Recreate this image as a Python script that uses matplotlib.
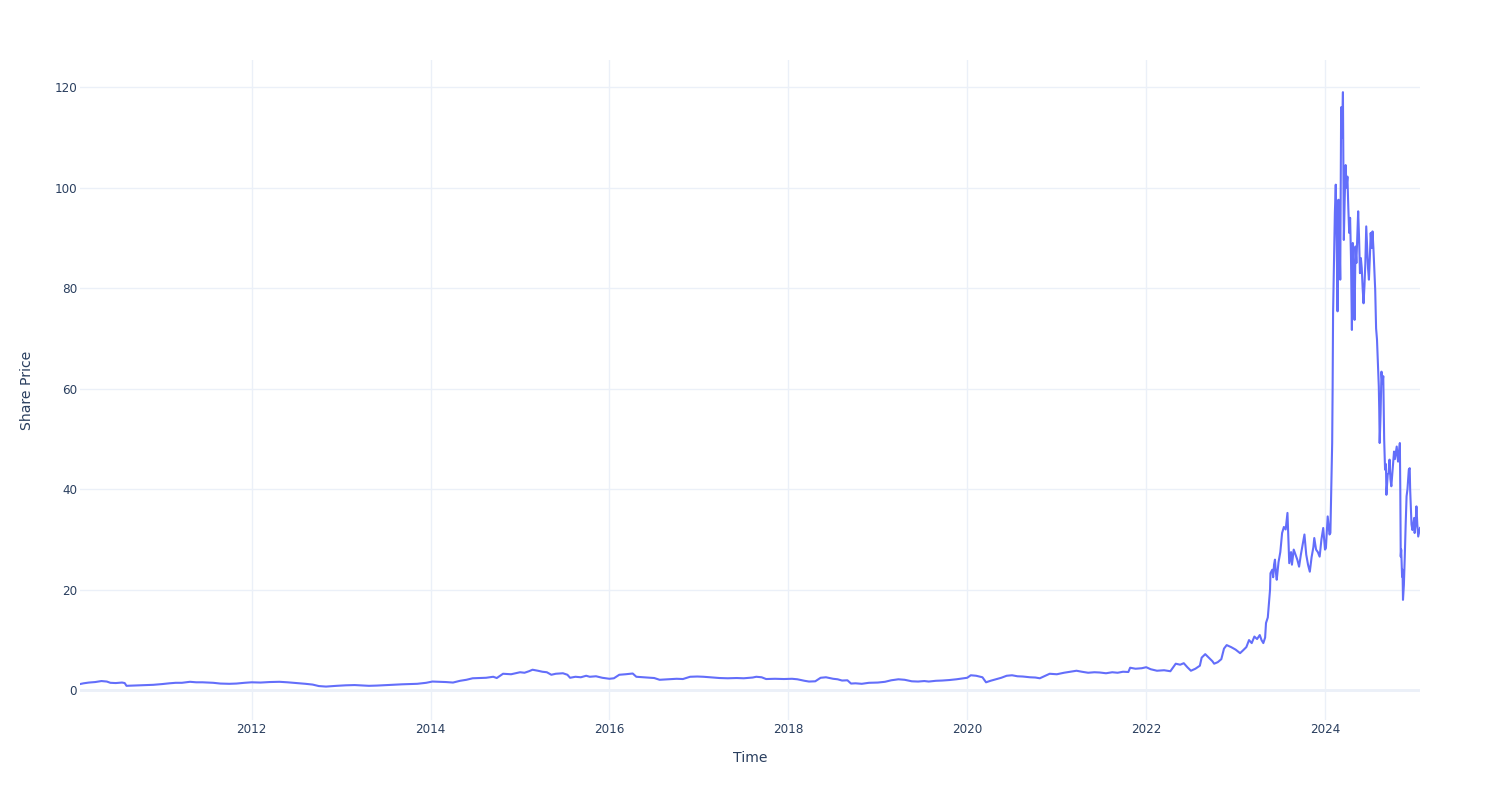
import matplotlib
matplotlib.use("Agg")
import matplotlib.pyplot as plt
import matplotlib.dates as mdates
import numpy as np
import pandas as pd

# ---- data (decimal year, share price) ----
decimal_years = [
    2010.08, 2010.12, 2010.18, 2010.25, 2010.32, 2010.38, 2010.42, 2010.48, 2010.55, 2010.58,
    2010.60, 2010.68, 2010.75, 2010.82, 2010.90, 2011.00, 2011.08, 2011.15, 2011.22, 2011.31,
    2011.38, 2011.45, 2011.57, 2011.65, 2011.75, 2011.83, 2011.92, 2012.00, 2012.10, 2012.20,
    2012.31, 2012.40, 2012.50, 2012.60, 2012.68, 2012.75, 2012.83, 2012.95, 2013.05, 2013.15,
    2013.25, 2013.31, 2013.40, 2013.50, 2013.57, 2013.68, 2013.76, 2013.85, 2013.95, 2014.02,
    2014.10, 2014.17, 2014.25, 2014.33, 2014.40, 2014.47, 2014.55, 2014.62, 2014.70, 2014.74,
    2014.81, 2014.90, 2015.00, 2015.05, 2015.10, 2015.14, 2015.20, 2015.25, 2015.30, 2015.35,
    2015.40, 2015.48, 2015.53, 2015.56, 2015.62, 2015.68, 2015.74, 2015.78, 2015.85, 2015.92,
    2016.00, 2016.05, 2016.11, 2016.18, 2016.26, 2016.30, 2016.38, 2016.45, 2016.50, 2016.56,
    2016.65, 2016.75, 2016.82, 2016.90, 2016.98, 2017.05, 2017.15, 2017.23, 2017.32, 2017.42,
    2017.50, 2017.60, 2017.64, 2017.70, 2017.75, 2017.85, 2017.95, 2018.04, 2018.10, 2018.18,
    2018.23, 2018.30, 2018.36, 2018.42, 2018.50, 2018.55, 2018.60, 2018.66, 2018.70, 2018.75,
    2018.82, 2018.90, 2019.00, 2019.08, 2019.15, 2019.23, 2019.30, 2019.38, 2019.45, 2019.52,
    2019.57, 2019.65, 2019.72, 2019.80, 2019.88, 2019.94, 2020.00, 2020.04, 2020.10, 2020.17,
    2020.21, 2020.26, 2020.32, 2020.38, 2020.44, 2020.50, 2020.56, 2020.62, 2020.70, 2020.76,
    2020.81, 2020.86, 2020.92, 2021.00, 2021.08, 2021.15, 2021.22, 2021.28, 2021.35, 2021.42,
    2021.48, 2021.55, 2021.62, 2021.68, 2021.74, 2021.80, 2021.82, 2021.88, 2021.95, 2022.00,
    2022.05, 2022.12, 2022.20, 2022.27, 2022.33, 2022.38, 2022.42, 2022.46, 2022.50, 2022.55,
    2022.60, 2022.62, 2022.66, 2022.70, 2022.74, 2022.76, 2022.80, 2022.84, 2022.87, 2022.90,
    2022.95, 2023.00, 2023.05, 2023.08, 2023.12, 2023.15, 2023.18, 2023.21, 2023.24, 2023.27,
    2023.29, 2023.31, 2023.33, 2023.34, 2023.36, 2023.37, 2023.385, 2023.39, 2023.41, 2023.42,
    2023.43, 2023.44, 2023.45, 2023.46, 2023.48, 2023.50, 2023.52, 2023.54, 2023.56, 2023.58,
    2023.59, 2023.60, 2023.62, 2023.63, 2023.65, 2023.67, 2023.69, 2023.71, 2023.73, 2023.75,
    2023.77, 2023.79, 2023.81, 2023.83, 2023.85, 2023.87, 2023.88, 2023.90, 2023.92, 2023.94,
    2023.96, 2023.98, 2024.00, 2024.01, 2024.03, 2024.05, 2024.06, 2024.07, 2024.08, 2024.085,
    2024.09, 2024.10, 2024.11, 2024.12, 2024.13, 2024.14, 2024.145, 2024.15, 2024.16, 2024.17,
    2024.175, 2024.18, 2024.19, 2024.20, 2024.205, 2024.21, 2024.22, 2024.23, 2024.24, 2024.25,
    2024.26, 2024.27, 2024.28, 2024.29, 2024.30, 2024.305, 2024.31, 2024.32, 2024.33, 2024.34,
    2024.35, 2024.36, 2024.37, 2024.38, 2024.39, 2024.40, 2024.41, 2024.42, 2024.43, 2024.44,
    2024.45, 2024.46, 2024.47, 2024.48, 2024.49, 2024.50, 2024.51, 2024.52, 2024.53, 2024.54,
    2024.55, 2024.56, 2024.57, 2024.58, 2024.59, 2024.60, 2024.605, 2024.61, 2024.62, 2024.63,
    2024.64, 2024.65, 2024.66, 2024.67, 2024.68, 2024.685, 2024.70, 2024.71, 2024.72, 2024.73,
    2024.74, 2024.755, 2024.77, 2024.78, 2024.80, 2024.815, 2024.825, 2024.835, 2024.84, 2024.845,
    2024.85, 2024.86, 2024.865, 2024.87, 2024.88, 2024.89, 2024.90, 2024.91, 2024.92, 2024.935,
    2024.945, 2024.95, 2024.96, 2024.965, 2024.975, 2024.985, 2024.995, 2025.00, 2025.01, 2025.02,
    2025.03, 2025.04, 2025.05, 2025.06,
]

share_price = [
    1.25, 1.40, 1.55, 1.65, 1.85, 1.75, 1.50, 1.45, 1.55, 1.45,
    0.90, 0.95, 1.00, 1.05, 1.10, 1.25, 1.40, 1.50, 1.50, 1.70,
    1.60, 1.60, 1.50, 1.35, 1.30, 1.35, 1.50, 1.60, 1.55, 1.65,
    1.70, 1.60, 1.45, 1.30, 1.15, 0.85, 0.75, 0.90, 1.00, 1.05,
    0.95, 0.90, 0.95, 1.05, 1.10, 1.20, 1.25, 1.30, 1.50, 1.75,
    1.70, 1.65, 1.55, 1.90, 2.10, 2.40, 2.45, 2.50, 2.70, 2.45,
    3.30, 3.20, 3.60, 3.50, 3.80, 4.10, 3.90, 3.70, 3.60, 3.10,
    3.30, 3.40, 3.10, 2.50, 2.70, 2.60, 2.90, 2.70, 2.80, 2.50,
    2.30, 2.40, 3.10, 3.20, 3.35, 2.70, 2.60, 2.50, 2.45, 2.10,
    2.20, 2.30, 2.25, 2.70, 2.75, 2.70, 2.55, 2.45, 2.40, 2.45,
    2.40, 2.55, 2.70, 2.60, 2.25, 2.30, 2.25, 2.30, 2.20, 1.90,
    1.75, 1.80, 2.50, 2.60, 2.30, 2.20, 1.95, 2.00, 1.35, 1.40,
    1.30, 1.50, 1.55, 1.70, 2.00, 2.20, 2.10, 1.80, 1.75, 1.85,
    1.75, 1.90, 1.95, 2.05, 2.20, 2.35, 2.50, 3.00, 2.90, 2.60,
    1.60, 1.90, 2.20, 2.50, 2.90, 3.00, 2.80, 2.75, 2.60, 2.55,
    2.40, 2.80, 3.30, 3.20, 3.50, 3.70, 3.90, 3.70, 3.50, 3.60,
    3.55, 3.40, 3.60, 3.50, 3.70, 3.65, 4.50, 4.30, 4.40, 4.60,
    4.20, 3.90, 4.00, 3.80, 5.30, 5.10, 5.40, 4.60, 3.90, 4.30,
    4.90, 6.50, 7.20, 6.50, 5.80, 5.30, 5.60, 6.20, 8.30, 9.00,
    8.60, 8.10, 7.40, 7.90, 8.60, 10.0, 9.40, 10.7, 10.2, 11.0,
    10.0, 9.40, 10.5, 13.4, 14.5, 16.7, 20.0, 23.3, 24.0, 22.5,
    25.0, 26.0, 23.5, 22.0, 25.5, 27.5, 31.3, 32.5, 32.0, 35.3,
    30.0, 25.3, 27.5, 25.0, 28.0, 27.0, 26.0, 24.6, 27.0, 29.0,
    31.0, 27.0, 25.0, 23.6, 26.5, 28.5, 30.3, 28.0, 27.5, 26.6,
    30.0, 32.3, 28.0, 28.3, 34.6, 31.0, 31.3, 40.0, 49.2, 60.0,
    75.0, 85.0, 95.0, 100.6, 90.0, 75.4, 85.0, 97.6, 92.0, 81.7,
    100.0, 116.0, 110.0, 119.0, 105.0, 89.6, 98.0, 104.5, 100.0, 102.2,
    96.0, 91.0, 94.0, 86.0, 71.7, 80.0, 89.0, 82.0, 73.7, 88.3,
    85.0, 90.0, 95.3, 90.0, 83.0, 86.0, 84.0, 80.0, 77.0, 80.4,
    85.0, 92.3, 88.0, 84.0, 81.7, 86.0, 91.0, 88.0, 91.3, 88.0,
    84.0, 79.7, 72.0, 69.8, 65.0, 60.5, 56.0, 49.2, 55.0, 63.4,
    61.0, 62.5, 50.0, 43.9, 45.0, 38.9, 43.0, 43.2, 45.9, 42.0,
    40.6, 44.0, 47.5, 46.0, 48.5, 45.5, 47.0, 49.2, 40.0, 26.6,
    28.0, 22.6, 24.0, 18.0, 21.0, 26.6, 33.0, 38.6, 40.0, 43.9,
    44.2, 40.0, 35.3, 33.0, 31.9, 33.0, 34.3, 31.3, 33.0, 36.6,
    33.0, 30.6, 31.5, 32.3,
]

x_title = "Time"
y_title = "Share Price"
y_ticks = [0, 20, 40, 60, 80, 100, 120]


def to_date(y):
    yr = int(np.floor(y))
    start = pd.Timestamp(year=yr, month=1, day=1)
    end = pd.Timestamp(year=yr + 1, month=1, day=1)
    return start + (end - start) * (y - yr)


dates = [to_date(v) for v in decimal_years]

plt.rcParams['font.family'] = ['DejaVu Sans']

GRID = '#EBF0F8'
TEXT = '#2a3f5f'
LINE = '#636EFA'

fig = plt.figure(figsize=(15, 8), dpi=100)
ax = fig.add_axes([80 / 1500, 80 / 800, 1340 / 1500, 660 / 800])

ax.plot(dates, share_price, color=LINE, linewidth=1.5, zorder=3)

ax.set_xlim(dates[0], dates[-1])
ax.set_ylim(-5.9, 125.4)

ax.set_yticks(y_ticks)
ax.xaxis.set_major_locator(mdates.YearLocator(2))
ax.xaxis.set_major_formatter(mdates.DateFormatter('%Y'))

ax.grid(True, color=GRID, linewidth=1.0, zorder=0)
ax.axhline(0, color=GRID, linewidth=2.0, zorder=1)

for s in ax.spines.values():
    s.set_visible(False)

ax.tick_params(axis='both', length=0, labelsize=8.64, labelcolor=TEXT)
ax.tick_params(axis='y', pad=2)
ax.tick_params(axis='x', pad=2)

ax.set_xlabel(x_title, fontsize=10.08, color=TEXT, labelpad=11)
ax.set_ylabel(y_title, fontsize=10.08, color=TEXT, labelpad=15)

fig.savefig('out.png', dpi=100, facecolor='white')
